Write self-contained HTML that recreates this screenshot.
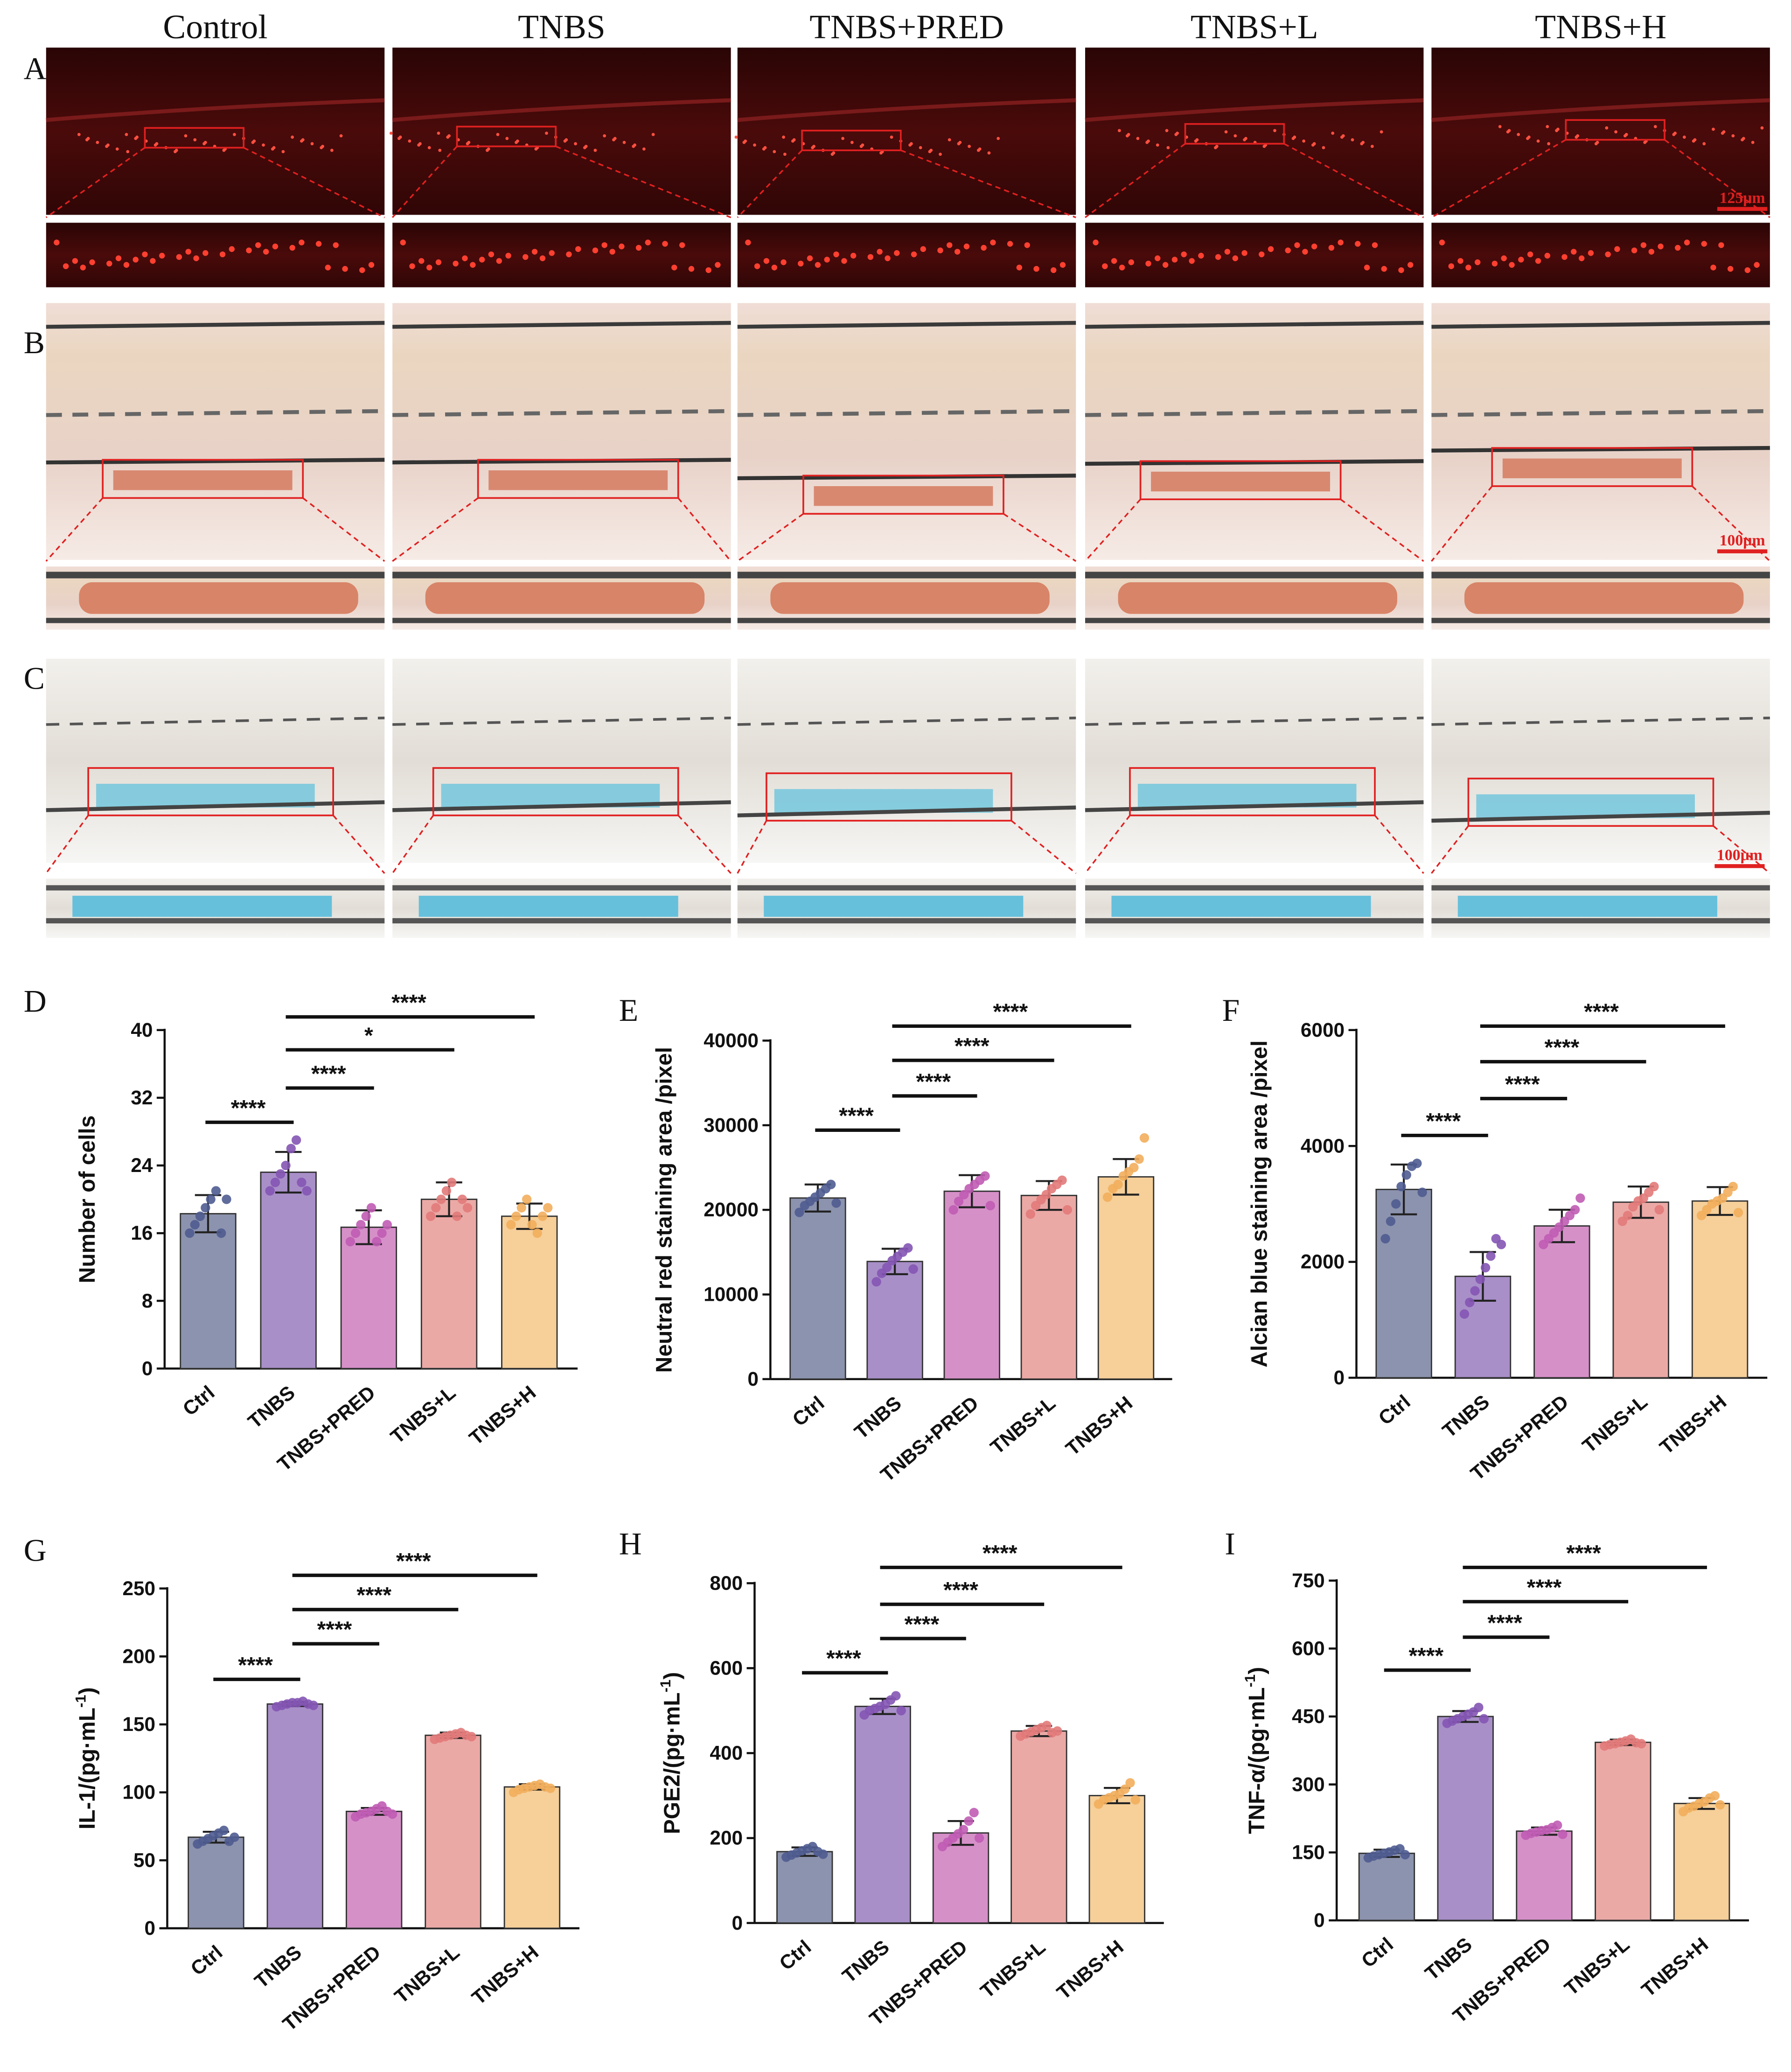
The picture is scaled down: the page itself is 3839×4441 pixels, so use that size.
<!DOCTYPE html>
<html><head><meta charset="utf-8">
<style>html,body{margin:0;padding:0;background:#fff}svg{display:block}</style></head>
<body>
<svg id="fig" xmlns="http://www.w3.org/2000/svg" width="3839" height="4441" viewBox="0 0 1360 1573">
<defs>
<linearGradient id="gA" x1="0" y1="0" x2="0" y2="1"><stop offset="0" stop-color="#2a0505"/><stop offset="0.5" stop-color="#4a0a0a"/><stop offset="1" stop-color="#300606"/></linearGradient>
<linearGradient id="gB" x1="0" y1="0" x2="0" y2="1"><stop offset="0" stop-color="#f0ddd6"/><stop offset="0.2" stop-color="#ead6c0"/><stop offset="0.6" stop-color="#e8d2c8"/><stop offset="1" stop-color="#f6ebe6"/></linearGradient>
<linearGradient id="gC" x1="0" y1="0" x2="0" y2="1"><stop offset="0" stop-color="#f2f0ec"/><stop offset="0.5" stop-color="#e2ddd6"/><stop offset="1" stop-color="#f6f6f4"/></linearGradient>
</defs>
</svg>
<script>
const NS='http://www.w3.org/2000/svg';
const svg=document.getElementById('fig');
function el(tag,attrs,parent,txt){const e=document.createElementNS(NS,tag);for(const k in attrs)e.setAttribute(k,attrs[k]);if(txt!==undefined)e.textContent=txt;(parent||svg).appendChild(e);return e;}

// ---- Images ----
const headers=['Control','TNBS','TNBS+PRED','TNBS+L','TNBS+H'];
const colX=[35,298,560,824,1087];
const colW=257;
headers.forEach((h,i)=>{const t=el('text',{x:colX[i]+colW/2,y:29,'font-family':'Liberation Serif, serif','font-size':26,'text-anchor':'middle',fill:'#111'},svg,h);
});
const boxA=[[110,97,75,15],[347,96,75,15],[609,99,75,15],[900,94,75,15],[1189,91,75,15]];
const boxB=[[78,349,152,29],[363,349,152,29],[610,361,152,29],[866,350,152,29],[1133,340,152,29]];
const boxC=[[67,583,186,36],[329,583,186,36],[582,587,186,36],[858,583,186,36],[1115,591,186,36]];
function panelRow(y,h,sy,sh,fill,boxes,kind){
  colX.forEach((x,i)=>{
    const g=el('g',{});
    el('rect',{x:x,y:y,width:colW,height:h,fill:fill},g);
    if(kind==='A'){for(let k=0;k<40;k++){el('circle',{cx:boxes[i][0]-50+((k*37)%200),cy:boxes[i][1]+5+((k*13)%14),r:1.2,fill:'#ff5040'},g);}
      el('path',{d:`M${x} ${y+55} Q${x+120} ${y+45} ${x+colW} ${y+40}`,stroke:'#7a1a1a','stroke-width':3,fill:'none'},g);}
    if(kind==='B'){el('path',{d:`M${x} ${y+18} L${x+colW} ${y+15}`,stroke:'#3a3a3a','stroke-width':3,fill:'none'},g);
      el('path',{d:`M${x} ${y+85} L${x+colW} ${y+82}`,stroke:'#666','stroke-width':3,'stroke-dasharray':'12 8',fill:'none'},g);
      el('rect',{x:boxes[i][0]+8,y:boxes[i][1]+8,width:boxes[i][2]-16,height:boxes[i][3]-14,fill:'#d98870'},g);
      el('path',{d:`M${x} ${boxes[i][1]+2} L${x+colW} ${boxes[i][1]}`,stroke:'#333','stroke-width':3,fill:'none'},g);}
    if(kind==='C'){el('path',{d:`M${x} ${y+50} L${x+colW} ${y+45}`,stroke:'#555','stroke-width':2,'stroke-dasharray':'10 8',fill:'none'},g);
      el('rect',{x:boxes[i][0]+6,y:boxes[i][1]+12,width:boxes[i][2]-20,height:boxes[i][3]-18,fill:'#6cc4dc',opacity:0.8},g);
      el('path',{d:`M${x} ${boxes[i][1]+32} L${x+colW} ${boxes[i][1]+26}`,stroke:'#444','stroke-width':3,fill:'none'},g);}
    el('rect',{x:boxes[i][0],y:boxes[i][1],width:boxes[i][2],height:boxes[i][3],fill:'none',stroke:'#e02020','stroke-width':1.3},g);
    el('line',{x1:boxes[i][0],y1:boxes[i][1]+boxes[i][3],x2:x,y2:sy-4,stroke:'#e02020','stroke-width':1.2,'stroke-dasharray':'4 3'},g);
    el('line',{x1:boxes[i][0]+boxes[i][2],y1:boxes[i][1]+boxes[i][3],x2:x+colW,y2:sy-4,stroke:'#e02020','stroke-width':1.2,'stroke-dasharray':'4 3'},g);
    const s=el('g',{},svg);
    el('rect',{x:x,y:sy,width:colW,height:sh,fill:fill},s);
    if(kind==='A'){for(let k=0;k<30;k++)el('circle',{cx:x+8+((k*53)%245),cy:sy+15+((k*17)%22),r:2.2,fill:'#ff4030'},s);}
    if(kind==='B'){el('rect',{x:x,y:sy+4,width:colW,height:5,fill:'#444'},s);el('rect',{x:x+25,y:sy+12,width:colW-45,height:24,rx:10,fill:'#d88468'},s);el('rect',{x:x,y:sy+sh-9,width:colW,height:4,fill:'#444'},s);}
    if(kind==='C'){el('rect',{x:x,y:sy+5,width:colW,height:4,fill:'#555'},s);el('rect',{x:x+20,y:sy+13,width:colW-60,height:16,fill:'#66c0dc'},s);el('rect',{x:x,y:sy+30,width:colW,height:4,fill:'#555'},s);}
  });
}
panelRow(36,127,169,49,'url(#gA)',boxA,'A');
panelRow(230,195,430,48,'url(#gB)',boxB,'B');
panelRow(500,155,667,45,'url(#gC)',boxC,'C');
[['125μm',1323,154],['100μm',1323,414],['100μm',1321,653]].forEach((s,i)=>{
  const t=el('text',{x:s[1],y:s[2],'font-family':'Liberation Serif, serif','font-size':12,'font-weight':'bold','text-anchor':'middle',fill:'#e02020'},svg,s[0]);
  
  el('rect',{x:s[1]-19,y:s[2]+3,width:38,height:3,fill:'#e02020'});
});

// ---- letters ----
[['A',18,60],['B',18,268],['C',18,523],['D',18,768],['E',470,775],['F',928,775],['G',18,1185],['H',470,1180],['I',930,1180]].forEach(l=>{
  const t=el('text',{x:l[1],y:l[2],'font-family':'Liberation Serif, serif','font-size':24,fill:'#111'},svg,l[0]);
  
});

// ---- chart data ----
const categories=['Ctrl','TNBS','TNBS+PRED','TNBS+L','TNBS+H'];
const dMeans=[18.3,23.2,16.7,20.0,18.0];
const dSD=[2.2,2.4,2.0,2.0,1.5];
const dPts=[[16,17,18,19,20,21,16,20],[21,22,23,24,26,27,22,21],[15,16,17,18,19,15,16,17],[18,19,20,21,22,18,20,19],[17,18,19,20,17,16,18,19]];
const eMeans=[21400,13900,22200,21700,23900];
const eSD=[1600,1500,1900,1700,2100];
const ePts=[[19700,20500,21000,21500,22000,22500,23000,20800],[11500,12500,13200,14000,14500,15000,15500,13000],[20000,21000,21800,22500,23000,23500,24000,20500],[19500,20500,21200,21800,22500,23000,23500,20000],[21500,22500,23000,24000,24500,25000,26000,28500]];
const fMeans=[3250,1750,2620,3030,3050];
const fSD=[430,420,280,270,240];
const fPts=[[2400,2700,3000,3300,3500,3650,3700,3200],[1100,1300,1500,1700,1900,2100,2400,2300],[2300,2400,2500,2600,2700,2800,2900,3100],[2700,2800,2950,3050,3100,3200,3300,2900],[2800,2900,3000,3050,3100,3200,3300,2850]];
const gMeans=[67,165,86,142,104];
const gSD=[4,1.5,2.5,2,2];
const gPts=[[62,64,66,68,70,72,64,67],[163,164,165,166,166,167,165,164],[82,84,85,86,88,90,86,84],[139,140,141,142,143,144,142,141],[100,102,103,104,105,106,104,103]];
const hMeans=[168,510,212,452,300];
const hSD=[10,18,28,12,18];
const hPts=[[155,160,165,170,175,180,168,162],[490,500,505,510,515,525,535,500],[180,190,200,210,220,240,260,200],[440,445,450,455,460,465,448,452],[280,290,295,300,305,315,330,290]];
const iMeans=[148,450,197,393,258];
const iSD=[8,12,8,6,12];
const iPts=[[138,142,145,148,151,155,158,145],[435,440,445,450,455,460,470,445],[188,192,195,198,200,205,210,190],[385,388,390,393,396,400,392,390],[240,248,252,258,262,270,275,255]];
const fills=['#8c93ae','#a88fc8','#d690c8','#eba9a6','#f6cf99'];
const dots=['#4f5c90','#8455b4','#c05cb4','#e27a7a','#f2ae5c'];

function chart(o){
  const g=el('g',{});
  const yOf=v=>o.y0-(v/o.max)*(o.y0-o.ytop);
  const xOf=i=>o.x0+i*o.step;
  const ax=el('line',{x1:o.ox,y1:o.ytop-1,x2:o.ox,y2:o.y0,stroke:'#111','stroke-width':1.6},g);
  
  const xa=el('line',{x1:o.ox,y1:o.y0,x2:xOf(4)+o.step*0.6,y2:o.y0,stroke:'#111','stroke-width':1.6},g);
  
  o.ticks.forEach(t=>{const y=yOf(t);el('line',{x1:o.ox-6,y1:y,x2:o.ox,y2:y,stroke:'#111','stroke-width':1.6},g);
    const tl=el('text',{x:o.ox-9,y:y+5,'text-anchor':'end','font-family':'Liberation Sans, sans-serif','font-weight':'bold','font-size':15,fill:'#111'},g,String(t));
    });
  const yl=el('text',{transform:`translate(${o.lx},${(o.y0+o.ytop)/2}) rotate(-90)`,'text-anchor':'middle','font-family':'Liberation Sans, sans-serif','font-weight':'bold','font-size':17,fill:'#111'},g);
  
  if(o.sup){yl.textContent=o.label;const ts=el('tspan',{dy:-7,'font-size':11},yl,'-1');el('tspan',{dy:7},yl,')');}else yl.textContent=o.label;
  categories.forEach((c,i)=>{
    const x=xOf(i),bw=42;
    const b=el('rect',{x:x-bw/2,y:yOf(o.means[i]),width:bw,height:o.y0-yOf(o.means[i]),fill:fills[i],stroke:'#333','stroke-width':1},g);
    
    const yt=yOf(o.means[i]+o.sd[i]),yb=yOf(o.means[i]-o.sd[i]);
    el('line',{x1:x,y1:yt,x2:x,y2:yb,stroke:'#222','stroke-width':1.5},g);
    el('line',{x1:x-10,y1:yt,x2:x+10,y2:yt,stroke:'#222','stroke-width':1.5},g);
    el('line',{x1:x-10,y1:yb,x2:x+10,y2:yb,stroke:'#222','stroke-width':1.5},g);
    o.pts[i].forEach((v,k)=>{const d=el('circle',{cx:x-14+k*4,cy:yOf(v),r:3.6,fill:dots[i],opacity:0.9},g);
      });
    const xl=el('text',{transform:`translate(${x+6},${o.y0+20}) rotate(-40)`,'text-anchor':'end','font-family':'Liberation Sans, sans-serif','font-weight':'bold','font-size':15,fill:'#111'},g,c);
    
  });
  o.br.forEach((b,k)=>{
    const l=el('line',{x1:xOf(b[0])-2,y1:b[2],x2:xOf(b[1])+4,y2:b[2],stroke:'#111','stroke-width':2.6},g);
    
    const t=el('text',{x:(xOf(b[0])+xOf(b[1]))/2,y:b[2]-5,'text-anchor':'middle','font-family':'Liberation Sans, sans-serif','font-weight':'bold','font-size':17,fill:'#111'},g,b[3]);
    
  });
}
const S='****';
chart({name:'chart-d',ox:125,x0:158,step:61,y0:1039,ytop:782,max:40,ticks:[0,8,16,24,32,40],means:dMeans,sd:dSD,pts:dPts,label:'Number of cells',lx:72,
  br:[[0,1,852,S],[1,2,826,S],[1,3,797,'*'],[1,4,772,S]]});
chart({name:'chart-e',ox:585,x0:621,step:58.5,y0:1047,ytop:790,max:40000,ticks:[0,10000,20000,30000,40000],means:eMeans,sd:eSD,pts:ePts,label:'Neutral red staining area /pixel',lx:510,
  br:[[0,1,858,S],[1,2,832,S],[1,3,805,S],[1,4,779,S]]});
chart({name:'chart-f',ox:1030,x0:1066,step:60,y0:1046,ytop:782,max:6000,ticks:[0,2000,4000,6000],means:fMeans,sd:fSD,pts:fPts,label:'Alcian blue staining area /pixel',lx:962,
  br:[[0,1,862,S],[1,2,834,S],[1,3,806,S],[1,4,779,S]]});
chart({name:'chart-g',ox:127,x0:164,step:60,y0:1464,ytop:1206,max:250,ticks:[0,50,100,150,200,250],means:gMeans,sd:gSD,pts:gPts,label:'IL-1/(pg·mL',sup:true,lx:72,
  br:[[0,1,1275,S],[1,2,1248,S],[1,3,1222,S],[1,4,1196,S]]});
chart({name:'chart-h',ox:573,x0:611,step:59.3,y0:1460,ytop:1202,max:800,ticks:[0,200,400,600,800],means:hMeans,sd:hSD,pts:hPts,label:'PGE2/(pg·mL',sup:true,lx:516,
  br:[[0,1,1270,S],[1,2,1244,S],[1,3,1218,S],[1,4,1190,S]]});
chart({name:'chart-i',ox:1015,x0:1053,step:59.8,y0:1458,ytop:1200,max:750,ticks:[0,150,300,450,600,750],means:iMeans,sd:iSD,pts:iPts,label:'TNF-α/(pg·mL',sup:true,lx:960,
  br:[[0,1,1268,S],[1,2,1243,S],[1,3,1216,S],[1,4,1190,S]]});
</script>
</body></html>
